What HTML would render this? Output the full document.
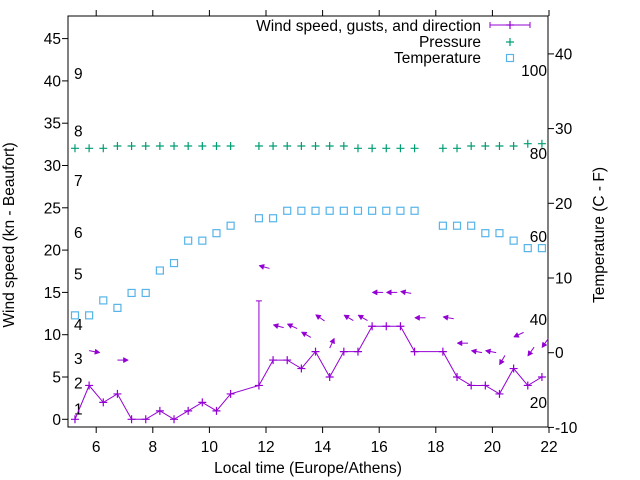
<!DOCTYPE html>
<html><head><meta charset="utf-8"><style>
html,body{margin:0;padding:0;background:#fff;}
svg{display:block;font-family:"Liberation Sans",Arial,sans-serif;}
text{font-size:15.5px;fill:#000;}
</style></head><body>
<svg id="chart" width="640" height="480" viewBox="0 0 640 480" xmlns="http://www.w3.org/2000/svg">
<rect x="0" y="0" width="640" height="480" fill="#fff"/>
<g id="axes"></g>
<g id="marks"></g>
<text x="308" y="473" text-anchor="middle">Local time (Europe/Athens)</text>
<text transform="translate(14,235) rotate(-90)" text-anchor="middle">Wind speed (kn - Beaufort)</text>
<text transform="translate(604,235) rotate(-90)" text-anchor="middle">Temperature (C - F)</text>
<g id="legend"></g>
</svg>
<script>
const times = [5.25,5.75,6.25,6.75,7.25,7.75,8.25,8.75,9.25,9.75,10.25,10.75,
  11.75,12.25,12.75,13.25,13.75,14.25,14.75,15.25,15.75,16.25,16.75,17.25,
  18.25,18.75,19.25,19.75,20.25,20.75,21.25,21.75];
const windSpeed = [0,4,2,3,0,0,1,0,1,2,1,3, 4,7,7,6,8,5,8,8,11,11,11,8, 8,5,4,4,3,6,4,5];
const gusts = [null,null,null,null,null,null,null,null,null,null,null,null, 14,null,null,null,null,null,null,null,null,null,null,null, null,null,null,null,null,null,null,null];
const windDirAngle = [null,-10,null,0,null,null,null,null,null,null,null,null,
  165,165,155,150,145,65,150,150,180,180,170,180, 170,180,170,170,240,205,235,235];
const pressure = [1013,1013,1013,1014,1014,1014,1014,1014,1014,1014,1014,1014,
  1014,1014,1014,1014,1014,1014,1014,1013,1013,1013,1013,1013, 1013,1013,1014,1014,1014,1014,1015,1015];
const temperature = [5,5,7,6,8,8,11,12,15,15,16,17, 18,18,19,19,19,19,19,19,19,19,19,19, 17,17,17,16,16,15,14,14];
const xTicks = [6,8,10,12,14,16,18,20,22];
const yTicks = [0,5,10,15,20,25,30,35,40,45];
const y2Ticks = [-10,0,10,20,30,40];
const beaufortLabels = ["1","2","3","4","5","6","7","8","9"];
const beaufortPos = [1.2,4.3,7.2,11.2,17.2,22.1,28.2,34.1,40.9];
const fahrenheitLabels = [20,40,60,80,100];

const L=68,R=548,T=16,B=427;
const NS="http://www.w3.org/2000/svg";
function xS(t){return 96.2+(t-6)*28.3;}
function yS(v){return 419.3-v*8.46;}
function y2S(c){return 352.7-c*7.47;}
function pS(p){return 148.3-(p-1013)*2.3;}
function mk(tag,attrs,parent){const e=document.createElementNS(NS,tag);for(const k in attrs)e.setAttribute(k,attrs[k]);parent.appendChild(e);return e;}
const axes=document.getElementById('axes');
const marks=document.getElementById('marks');
const legend=document.getElementById('legend');

const border=mk('rect',{x:L,y:T,width:R-L,height:B-T,fill:'none',stroke:'#000','stroke-width':1},axes);



xTicks.forEach(t=>{
  const x=xS(t);
  const a=mk('line',{x1:x,x2:x,y1:B,y2:B+6,stroke:'#000'},axes);
  
  
  const b=mk('line',{x1:x,x2:x,y1:T,y2:T-6,stroke:'#000'},axes);
  
  
  const tx=mk('text',{x:x,y:452,'text-anchor':'middle'},axes);
  tx.textContent=t;
  
  
});
yTicks.forEach(v=>{
  const y=yS(v);
  const a=mk('line',{x1:L-6,x2:L,y1:y,y2:y,stroke:'#000'},axes);
  
  
  const tx=mk('text',{x:61,y:y+5.5,'text-anchor':'end'},axes);
  tx.textContent=v;
  
  
});
y2Ticks.forEach(v=>{
  const y=y2S(v);
  const a=mk('line',{x1:R,x2:R+6,y1:y,y2:y,stroke:'#000'},axes);
  
  
  const tx=mk('text',{x:555,y:y+5.5,'text-anchor':'start'},axes);
  tx.textContent=v;
  
  
});
beaufortLabels.forEach((s,i)=>{
  const tx=mk('text',{x:74,y:yS(beaufortPos[i])+5.5},axes);
  tx.textContent=s;
  
  
});
fahrenheitLabels.forEach(f=>{
  const tx=mk('text',{x:547,y:y2S((f-32)*5/9)+5.5,'text-anchor':'end'},axes);
  tx.textContent=f;
  
  
});

const purple='#9400d3', green='#009e73', blue='#56b4e9';
function plus(x,y,c,name){
  const g=mk('path',{d:`M${x-4},${y}H${x+4}M${x},${y-4}V${y+4}`,stroke:c,'stroke-width':1.2,fill:'none'},marks);
  
  
}
times.forEach((t,i)=>plus(xS(t),pS(pressure[i]),green,'pressure-point'));
times.forEach((t,i)=>{
  const r=mk('rect',{x:xS(t)-3.5,y:y2S(temperature[i])-3.5,width:7,height:7,fill:'none',stroke:blue,'stroke-width':1.2},marks);
  
  
});
let d='';
times.forEach((t,i)=>{d+=(i?'L':'M')+xS(t).toFixed(1)+','+yS(windSpeed[i]).toFixed(1);});
const wl=mk('path',{d:d,fill:'none',stroke:purple,'stroke-width':1},marks);


times.forEach((t,i)=>plus(xS(t),yS(windSpeed[i]),purple,'wind-speed-point'));
times.forEach((t,i)=>{
  if(gusts[i]==null)return;
  const x=xS(t);
  const g=mk('path',{d:`M${x},${yS(windSpeed[i])}V${yS(gusts[i])}M${x-3},${yS(gusts[i])}H${x+3}`,stroke:purple,fill:'none'},marks);
  
  
});
times.forEach((t,i)=>{
  const a=windDirAngle[i]; if(a==null)return;
  const top=(gusts[i]!=null?gusts[i]:windSpeed[i])+4;
  const len=11, rad=a*Math.PI/180;
  const dx=Math.cos(rad)*len, dy=-Math.sin(rad)*len;
  const x0=xS(t)+Math.max(0,-dx), yc=yS(top);
  const tx=x0, ty=yc-dy/2, hx=x0+dx, hy=yc+dy/2;
  const ux=dx/len, uy=dy/len;
  const bx=hx-ux*5, by=hy-uy*5;
  const ln=mk('line',{x1:tx,y1:ty,x2:bx,y2:by,stroke:purple,'stroke-width':1},marks);
  
  
  const hd=mk('polygon',{points:`${hx},${hy} ${bx-uy*2.6},${by+ux*2.6} ${bx+uy*2.6},${by-ux*2.6}`,fill:purple,stroke:purple,'stroke-width':0.5},marks);
  
  
});
const l1=mk('text',{x:481,y:31,'text-anchor':'end'},legend);
l1.textContent='Wind speed, gusts, and direction';


const ls=mk('path',{d:'M490,25H530M490,22V28M530,22V28',stroke:purple,fill:'none'},legend);


plus(510,25,purple,'legend-wind-marker');
const l2=mk('text',{x:481,y:47,'text-anchor':'end'},legend);
l2.textContent='Pressure';


plus(510,42,green,'legend-pressure-marker');
const l3=mk('text',{x:481,y:63,'text-anchor':'end'},legend);
l3.textContent='Temperature';


const lr=mk('rect',{x:506.5,y:54.5,width:7,height:7,fill:'none',stroke:blue,'stroke-width':1.2},legend);


</script>
</body></html>
